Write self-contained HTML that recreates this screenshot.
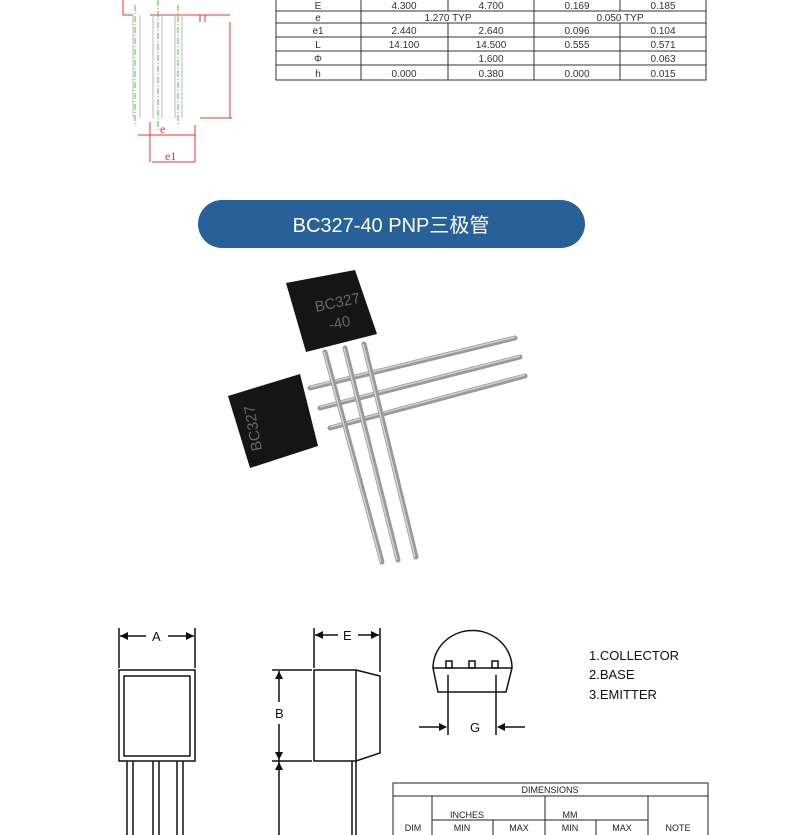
<!DOCTYPE html>
<html><head><meta charset="utf-8"><style>
html,body{margin:0;padding:0;background:#fff;}
body{width:790px;height:835px;overflow:hidden;position:relative;font-family:"Liberation Sans","Noto Sans CJK SC",sans-serif;}
svg{position:absolute;left:0;top:0}
</style></head><body>
<svg width="790" height="835" viewBox="0 0 790 835" xmlns="http://www.w3.org/2000/svg">
<!-- top-left drawing -->
<g stroke="#e33" stroke-width="1" fill="none">
<line x1="123" y1="0" x2="123" y2="15"/><line x1="123" y1="15" x2="133" y2="15"/>
<line x1="150" y1="15" x2="230" y2="15"/>
<line x1="200" y1="15" x2="200" y2="22"/><line x1="205" y1="15" x2="205" y2="22"/>
<line x1="230" y1="22" x2="230" y2="118"/><line x1="200" y1="118" x2="232" y2="118"/>
<line x1="150" y1="122" x2="150" y2="162"/><line x1="195" y1="125" x2="195" y2="162"/>
<line x1="138" y1="135" x2="195" y2="135"/><line x1="152" y1="162" x2="195" y2="162"/>
</g>
<text x="160" y="133" font-size="12" fill="#e33" font-family="Liberation Serif">e</text>
<text x="165" y="160" font-size="12" fill="#e33" font-family="Liberation Serif">e1</text>
<g stroke="#bbb" fill="none"><line x1="133" y1="15" x2="133" y2="118"/><line x1="140" y1="15" x2="140" y2="118"/><line x1="153" y1="15" x2="153" y2="118"/><line x1="162" y1="15" x2="162" y2="118"/><line x1="175" y1="15" x2="175" y2="118"/><line x1="182" y1="15" x2="182" y2="118"/></g>
<g stroke="#3c3" stroke-dasharray="6,2,1,2" fill="none"><line x1="135" y1="5" x2="135" y2="125"/><line x1="158" y1="0" x2="158" y2="130"/><line x1="178" y1="5" x2="178" y2="125"/></g>
<!-- top table -->
<g stroke="#333" stroke-width="1" fill="none">
<rect x="276" y="-2" width="430" height="82"/>
<line x1="276" y1="11" x2="706" y2="11"/><line x1="276" y1="23" x2="706" y2="23"/><line x1="276" y1="37" x2="706" y2="37"/><line x1="276" y1="51" x2="706" y2="51"/><line x1="276" y1="65" x2="706" y2="65"/>
<line x1="361" y1="0" x2="361" y2="80"/><line x1="448" y1="0" x2="448" y2="11"/><line x1="448" y1="23" x2="448" y2="80"/><line x1="534" y1="0" x2="534" y2="80"/><line x1="620" y1="0" x2="620" y2="11"/><line x1="620" y1="23" x2="620" y2="80"/>
</g>
<g font-size="10" fill="#333" text-anchor="middle">
<text x="318" y="9">E</text><text x="404" y="9">4.300</text><text x="491" y="9">4.700</text><text x="577" y="9">0.169</text><text x="663" y="9">0.185</text>
<text x="318" y="21">e</text><text x="448" y="21">1.270 TYP</text><text x="620" y="21">0.050 TYP</text>
<text x="318" y="34">e1</text><text x="404" y="34">2.440</text><text x="491" y="34">2.640</text><text x="577" y="34">0.096</text><text x="663" y="34">0.104</text>
<text x="318" y="48">L</text><text x="404" y="48">14.100</text><text x="491" y="48">14.500</text><text x="577" y="48">0.555</text><text x="663" y="48">0.571</text>
<text x="318" y="62">Φ</text><text x="491" y="62">1.600</text><text x="663" y="62">0.063</text>
<text x="318" y="77">h</text><text x="404" y="77">0.000</text><text x="491" y="77">0.380</text><text x="577" y="77">0.000</text><text x="663" y="77">0.015</text>
</g>
<!-- banner -->
<rect x="198" y="200" width="387" height="48" rx="24" fill="#28619a"/>
<text x="391" y="232" font-size="20" fill="#fff" text-anchor="middle">BC327-40 PNP三极管</text>
<!-- photo -->
<g stroke="#999" stroke-width="5" stroke-linecap="round">
<line x1="310" y1="388" x2="515" y2="338"/><line x1="320" y1="408" x2="520" y2="357"/><line x1="330" y1="428" x2="525" y2="376"/>
</g>
<g stroke="#cfcfcf" stroke-width="1.5"><line x1="310" y1="387" x2="515" y2="337"/><line x1="320" y1="407" x2="520" y2="356"/><line x1="330" y1="427" x2="525" y2="375"/></g>
<polygon points="228,396 300,374 318,446 250,468" fill="#151515"/>
<g stroke="#999" stroke-width="5" stroke-linecap="round">
<line x1="325" y1="352" x2="382" y2="562"/><line x1="345" y1="348" x2="398" y2="560"/><line x1="364" y1="344" x2="416" y2="557"/>
</g>
<g stroke="#d4d4d4" stroke-width="1.5"><line x1="324" y1="352" x2="381" y2="562"/><line x1="344" y1="348" x2="397" y2="560"/><line x1="363" y1="344" x2="415" y2="557"/></g>
<polygon points="286,283 355,270 377,334 306,352" fill="#151515"/>
<text x="316" y="312" font-size="15" fill="#666" transform="rotate(-12 316 312)">BC327</text>
<text x="330" y="330" font-size="15" fill="#666" transform="rotate(-12 330 330)">-40</text>
<text x="262" y="450" font-size="15" fill="#666" transform="rotate(-100 262 450)">BC327</text>
<!-- front view -->
<g stroke="#111" stroke-width="1.5" fill="none">
<rect x="119" y="670" width="76" height="91"/><rect x="124" y="676" width="66" height="80"/>
<line x1="127" y1="761" x2="127" y2="835"/><line x1="133" y1="761" x2="133" y2="835"/>
<line x1="153" y1="761" x2="153" y2="835"/><line x1="159" y1="761" x2="159" y2="835"/>
<line x1="177" y1="761" x2="177" y2="835"/><line x1="183" y1="761" x2="183" y2="835"/>
<line x1="119" y1="628" x2="119" y2="668"/><line x1="195" y1="628" x2="195" y2="668"/>
<line x1="120" y1="636" x2="146" y2="636"/><line x1="168" y1="636" x2="194" y2="636"/>
<!-- side -->
<path d="M314 670 H356 L380 676 V753 L356 761 H314 Z"/><line x1="356" y1="670" x2="356" y2="761"/>
<line x1="352" y1="761" x2="352" y2="835"/><line x1="356" y1="761" x2="356" y2="835"/>
<line x1="314" y1="628" x2="314" y2="668"/><line x1="380" y1="628" x2="380" y2="672"/>
<line x1="315" y1="635" x2="338" y2="635"/><line x1="358" y1="635" x2="379" y2="635"/>
<line x1="272" y1="670" x2="312" y2="670"/><line x1="272" y1="761" x2="312" y2="761"/>
<line x1="279" y1="671" x2="279" y2="702"/><line x1="279" y1="724" x2="279" y2="835"/>
<!-- end view -->
<path d="M433 668 A39 37 0 0 1 512 668 L506 692 H438 Z"/><line x1="433" y1="668" x2="512" y2="668"/>
<rect x="446" y="661" width="6" height="7"/><rect x="469" y="661" width="6" height="7"/><rect x="492" y="661" width="6" height="7"/>
<line x1="448" y1="675" x2="448" y2="735"/><line x1="496" y1="675" x2="496" y2="735"/>
<line x1="419" y1="727" x2="446" y2="727"/><line x1="498" y1="727" x2="525" y2="727"/>
</g>
<g fill="#111">
<polygon points="120,636 128,632 128,640"/><polygon points="194,636 186,632 186,640"/>
<polygon points="315,635 323,631 323,639"/><polygon points="379,635 371,631 371,639"/>
<polygon points="279,671 275,679 283,679"/><polygon points="279,760 275,752 283,752"/><polygon points="279,762 275,770 283,770"/>
<polygon points="447,727 439,723 439,731"/><polygon points="497,727 505,723 505,731"/>
</g>
<g font-size="13" fill="#111">
<text x="152" y="641">A</text><text x="343" y="640">E</text><text x="275" y="718">B</text><text x="470" y="732">G</text>
<text x="589" y="660">1.COLLECTOR</text><text x="589" y="679">2.BASE</text><text x="589" y="699">3.EMITTER</text>
</g>
<!-- bottom table -->
<g stroke="#222" fill="none" stroke-width="1">
<rect x="393" y="783" width="315" height="60"/>
<line x1="393" y1="796" x2="708" y2="796"/>
<line x1="432" y1="796" x2="432" y2="835"/><line x1="545" y1="796" x2="545" y2="835"/><line x1="648" y1="796" x2="648" y2="835"/>
<line x1="432" y1="820" x2="648" y2="820"/><line x1="493" y1="820" x2="493" y2="835"/><line x1="596" y1="820" x2="596" y2="835"/>
</g>
<g font-size="9" fill="#222" text-anchor="middle">
<text x="550" y="793">DIMENSIONS</text><text x="467" y="818">INCHES</text><text x="570" y="818">MM</text>
<text x="413" y="831">DIM</text><text x="462" y="831">MIN</text><text x="519" y="831">MAX</text><text x="570" y="831">MIN</text><text x="622" y="831">MAX</text><text x="678" y="831">NOTE</text>
</g>
</svg>
</body></html>
